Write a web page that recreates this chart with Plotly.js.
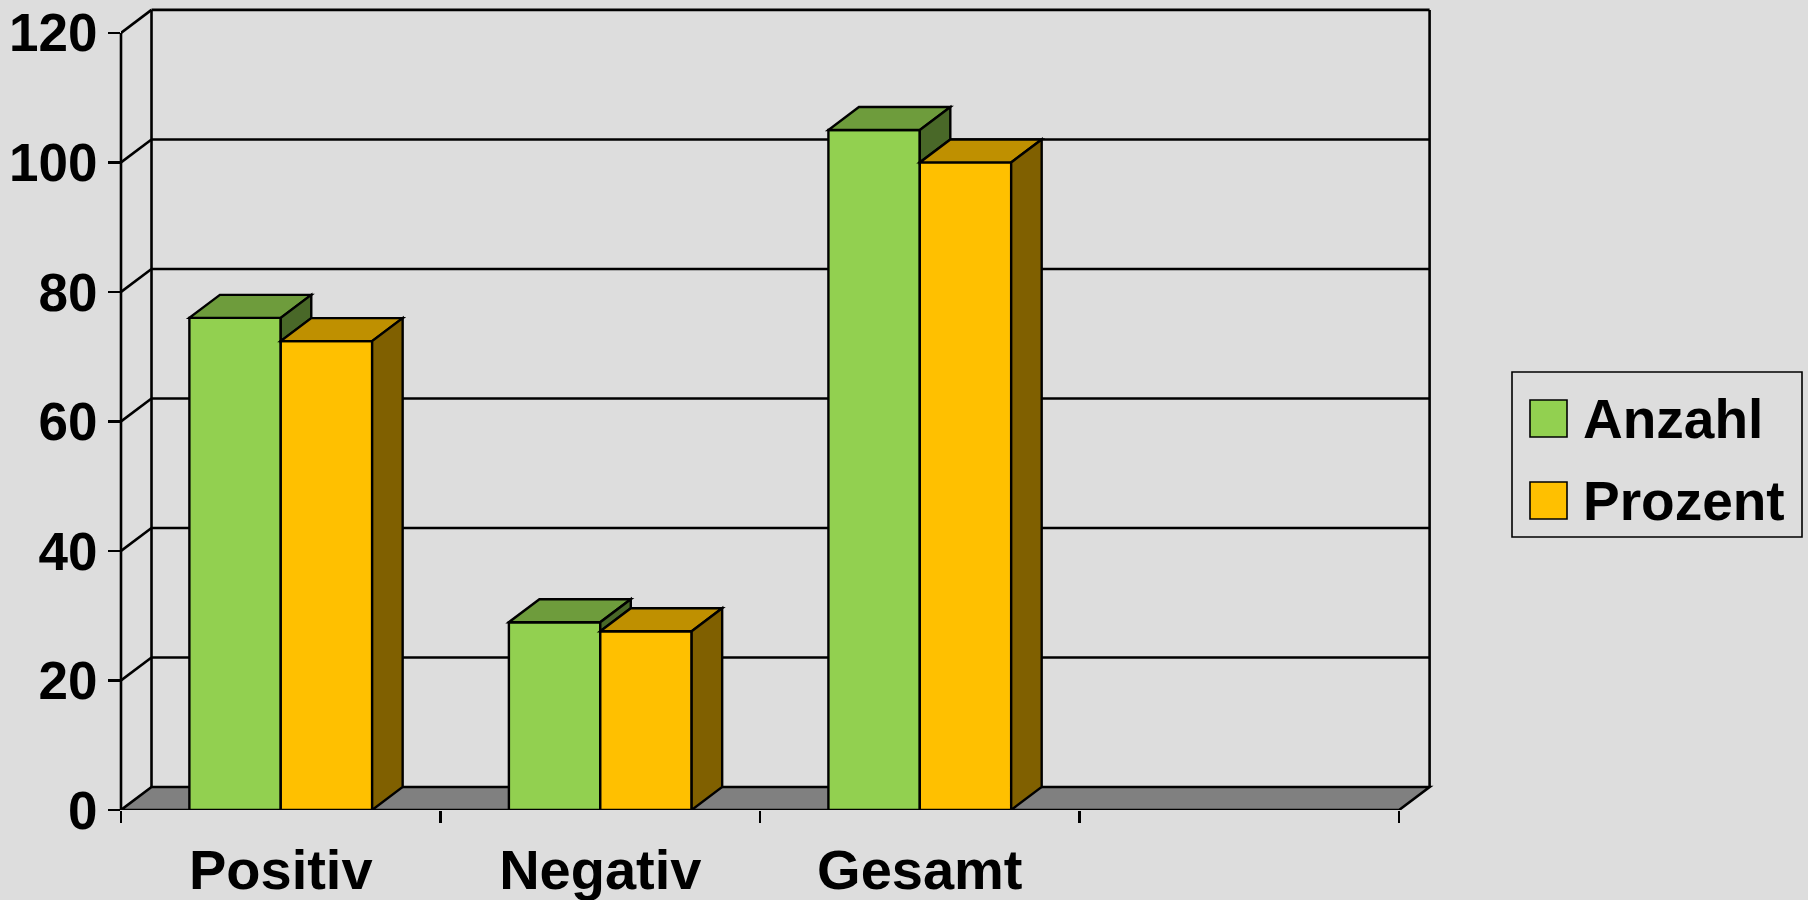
<!DOCTYPE html>
<html><head><meta charset="utf-8">
<script src="https://cdn.plot.ly/plotly-3.0.1.min.js"></script>
<style>html,body{margin:0;padding:0;background:#dddddd;}#chart{width:1808px;height:900px;}</style>
</head><body><div id="chart"></div>
<script>
// ---- data ----
const categories = ['Positiv', 'Negativ', 'Gesamt'];
const anzahl = [76, 29, 105];
const prozent = [72.4, 27.6, 100];
const seriesNames = ['Anzahl', 'Prozent'];
const yTicks = [0, 20, 40, 60, 80, 100, 120];
const slotCount = 4; // three categories plus one empty slot

// ---- style ----
const frontColors = ['#92D050', '#FFC000'];
const topColors = ['#6E9C3C', '#BF9000'];
const sideColors = ['#496828', '#806000'];
const BAR_W = 0.286;
const DX = 0.0955, DY = 3.55;   // 3D depth offset in data units
const LW = 2.6;                 // wall / axis line width
const BLW = 2.4;                // bar outline width
const FONT = 'Liberation Sans, Arial, sans-serif';

const M = {l: 121, r: 361, t: 7, b: 90};
const W = 1808, H = 900;
const PW = W - M.l - M.r, PH = H - M.t - M.b;
const px2x = p => (p - M.l) / PW;
const px2y = p => (H - M.b - p) / PH;

const xIdx = categories.map((c, i) => i);
const series = [anzahl, prozent];
const offsets = [-BAR_W, 0];
const xLo = -0.5, xHi = slotCount - 0.5;
const yMax = yTicks[yTicks.length - 1];

const traces = series.map((vals, s) => ({
  type: 'bar', x: xIdx, y: vals, width: BAR_W, offset: offsets[s],
  name: seriesNames[s], showlegend: false, hoverinfo: 'skip',
  marker: {color: frontColors[s], line: {color: '#000', width: BLW}}
}));

const shapes = [];
const ln = {color: '#000', width: LW};
// floor
shapes.push({type: 'path', layer: 'below', xref: 'x', yref: 'y',
  path: `M${xLo},0 L${xHi},0 L${xHi + DX},${DY} L${xLo + DX},${DY} Z`,
  fillcolor: '#808080', line: ln});
// back wall gridlines and left wall diagonals
yTicks.forEach(v => {
  if (v > 0) {
    shapes.push({type: 'line', layer: 'below', xref: 'x', yref: 'y',
      x0: xLo + DX, x1: xHi + DX, y0: v + DY, y1: v + DY, line: ln});
    shapes.push({type: 'line', layer: 'below', xref: 'x', yref: 'y',
      x0: xLo, x1: xLo + DX, y0: v, y1: v + DY, line: ln});
  }
});
// back wall vertical edges
[xLo + DX, xHi + DX].forEach(xx => shapes.push({type: 'line', layer: 'below', xref: 'x', yref: 'y',
  x0: xx, x1: xx, y0: DY, y1: yMax + DY, line: ln}));
// front value axis line
shapes.push({type: 'line', layer: 'below', xref: 'paper', yref: 'y',
  x0: 0, x1: 0, y0: 0, y1: yMax, line: ln});

// 3D faces of the bars
xIdx.forEach(i => {
  series.forEach((vals, s) => {
    const L = i + offsets[s], R = L + BAR_W, v = vals[i];
    shapes.push({type: 'path', layer: 'above', xref: 'x', yref: 'y',
      path: `M${L},${v} L${R},${v} L${R + DX},${v + DY} L${L + DX},${v + DY} Z`,
      fillcolor: topColors[s], line: {color: '#000', width: BLW}});
    const v0 = s < series.length - 1 ? series[s + 1][i] : 0;
    if (v0 < v) {
      shapes.push({type: 'path', layer: 'above', xref: 'x', yref: 'y',
        path: `M${R},${v0} L${R},${v} L${R + DX},${v + DY} L${R + DX},${v0 + DY} Z`,
        fillcolor: sideColors[s], line: {color: '#000', width: BLW}});
    }
  });
});

// legend (drawn)
const annotations = [];
shapes.push({type: 'rect', xref: 'paper', yref: 'paper',
  x0: px2x(1512), x1: px2x(1802), y0: px2y(537), y1: px2y(372),
  line: {color: '#000', width: 1.6}, fillcolor: 'rgba(0,0,0,0)'});
const legRows = [418.5, 500.5];
seriesNames.forEach((n, s) => {
  const cy = legRows[s];
  shapes.push({type: 'rect', xref: 'paper', yref: 'paper',
    x0: px2x(1530), x1: px2x(1567), y0: px2y(cy + 18.5), y1: px2y(cy - 18.5),
    line: {color: '#000', width: 1.6}, fillcolor: frontColors[s]});
  annotations.push({xref: 'paper', yref: 'paper', x: px2x(1581), y: px2y(cy),
    xanchor: 'left', yanchor: 'middle', showarrow: false, text: n,
    font: {family: FONT, size: 55, color: '#000', weight: 'bold'}});
});

const layout = {
  width: W, height: H, margin: M,
  paper_bgcolor: '#DDDDDD', plot_bgcolor: '#DDDDDD',
  barmode: 'overlay', showlegend: false,
  xaxis: {range: [xLo, xHi + 0.15], tickmode: 'array',
    tickvals: Array.from({length: slotCount + 1}, (_, k) => k - 0.5),
    showticklabels: false, ticks: 'outside', ticklen: 12, tickwidth: LW, tickcolor: '#000',
    showgrid: false, zeroline: false, showline: false},
  xaxis2: {overlaying: 'x', anchor: 'y', side: 'bottom', range: [xLo, xHi + 0.15],
    tickmode: 'array', tickvals: xIdx, ticktext: categories, ticks: '',
    ticklabelstandoff: 22,
    tickfont: {family: FONT, size: 56, color: '#000', weight: 'bold'},
    showgrid: false, zeroline: false, showline: false},
  yaxis: {range: [0, yMax + DY + 0.45], tickmode: 'array', tickvals: yTicks,
    ticks: 'outside', ticklen: 12, tickwidth: LW, tickcolor: '#000',
    tickfont: {family: FONT, size: 53, color: '#000', weight: 'bold'},
    showgrid: false, zeroline: false, showline: false},
  shapes: shapes, annotations: annotations
};
// an empty trace so xaxis2 gets drawn
traces.push({type: 'scatter', x: [], y: [], xaxis: 'x2', yaxis: 'y', showlegend: false, hoverinfo: 'skip'});
Plotly.newPlot('chart', traces, layout, {staticPlot: true});
</script>
</body></html>
